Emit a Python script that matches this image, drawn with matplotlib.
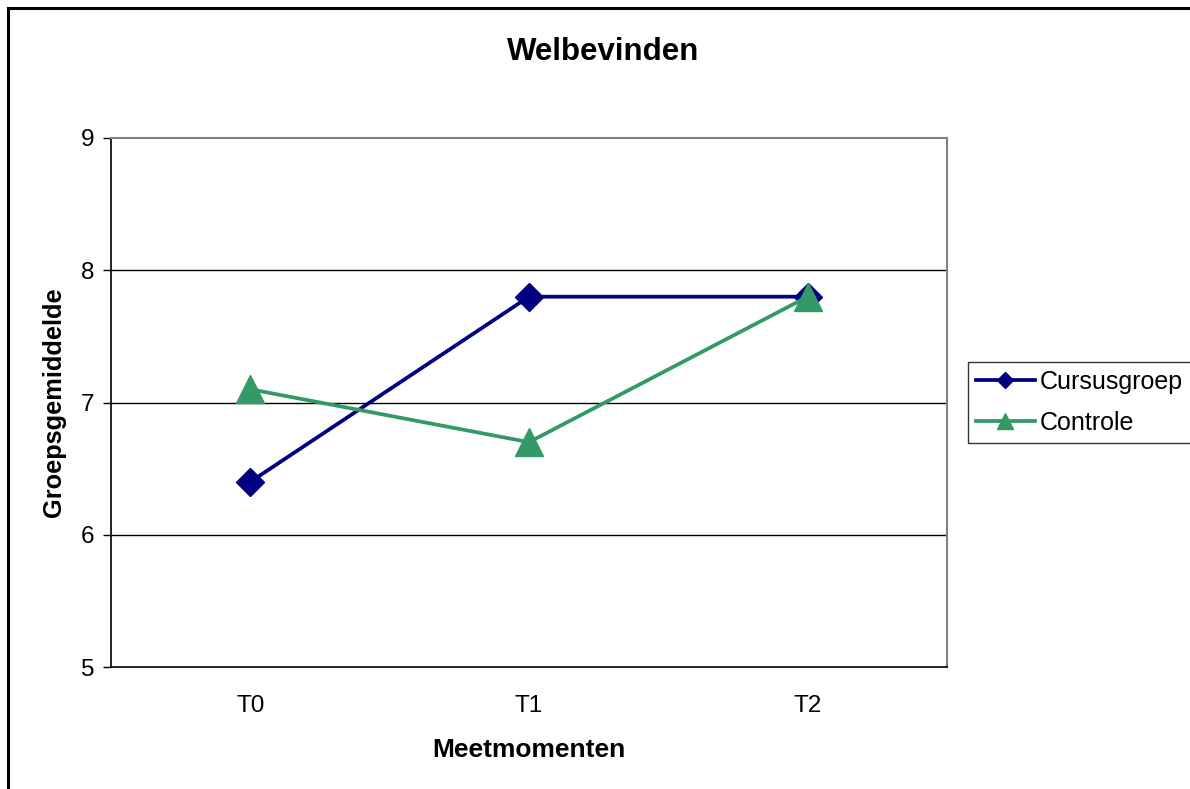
import matplotlib
matplotlib.use("Agg")
import matplotlib.pyplot as plt
from matplotlib.patches import Rectangle

# meetmomenten en groepsgemiddelden
momenten = ["T0", "T1", "T2"]
cursusgroep = [6.4, 7.8, 7.8]
controle = [7.1, 6.7, 7.8]
yticks = [5, 6, 7, 8, 9]

plt.rcParams['font.family'] = ['Liberation Sans', 'DejaVu Sans']

fig = plt.figure(figsize=(11.9, 7.89), dpi=100)

# outer chart frame (runs off the right and bottom edge)
fig.patches.append(Rectangle((8 / 1190, -0.05), 1.2, 1 - 8 / 789 + 0.05,
                             transform=fig.transFigure, fill=False,
                             edgecolor='black', linewidth=2.2, zorder=0))

ax = fig.add_axes([111 / 1190, 122 / 789, 836 / 1190, 529 / 789])

x = list(range(len(momenten)))
ax.plot(x, cursusgroep, color='#000080', linewidth=2.7, marker='D',
        markersize=14, label='Cursusgroep', zorder=3)
ax.plot(x, controle, color='#339966', linewidth=2.7, marker='^',
        markersize=20.5, label='Controle', zorder=4)

ax.set_xlim(-0.5, 2.5)
ax.set_ylim(5, 9)
ax.set_xticks(x)
ax.set_xticklabels(momenten)
ax.set_yticks(yticks)
ax.tick_params(axis='x', length=0, pad=20, labelsize=17.5)
ax.tick_params(axis='y', length=6, width=1, pad=6, labelsize=17.5)

for y in yticks[1:-1]:
    ax.axhline(y, color='black', linewidth=1, zorder=1)

for side in ['top', 'right']:
    ax.spines[side].set_color('#808080')
    ax.spines[side].set_linewidth(1.5)
for side in ['left', 'bottom']:
    ax.spines[side].set_color('black')
    ax.spines[side].set_linewidth(1.2)

fig.text(603 / 1190, 1 - 52 / 789, 'Welbevinden', fontsize=22.5,
         fontweight='bold', ha='center', va='center')
ax.set_xlabel('Meetmomenten', fontsize=19, fontweight='bold', labelpad=15)
ax.set_ylabel('Groepsgemiddelde', fontsize=18.3, fontweight='bold', labelpad=11)

leg = ax.legend(loc='center left', bbox_to_anchor=(1.025, 0.5),
                fontsize=18, frameon=True, fancybox=False, borderpad=0.32,
                handlelength=2.35, handletextpad=0.2, labelspacing=0.68,
                borderaxespad=0)
leg.get_frame().set_edgecolor('black')
leg.get_frame().set_linewidth(1)
for h in leg.legend_handles:
    h.set_markersize(h.get_markersize() * 0.57)

fig.savefig('out.png', dpi=100)
